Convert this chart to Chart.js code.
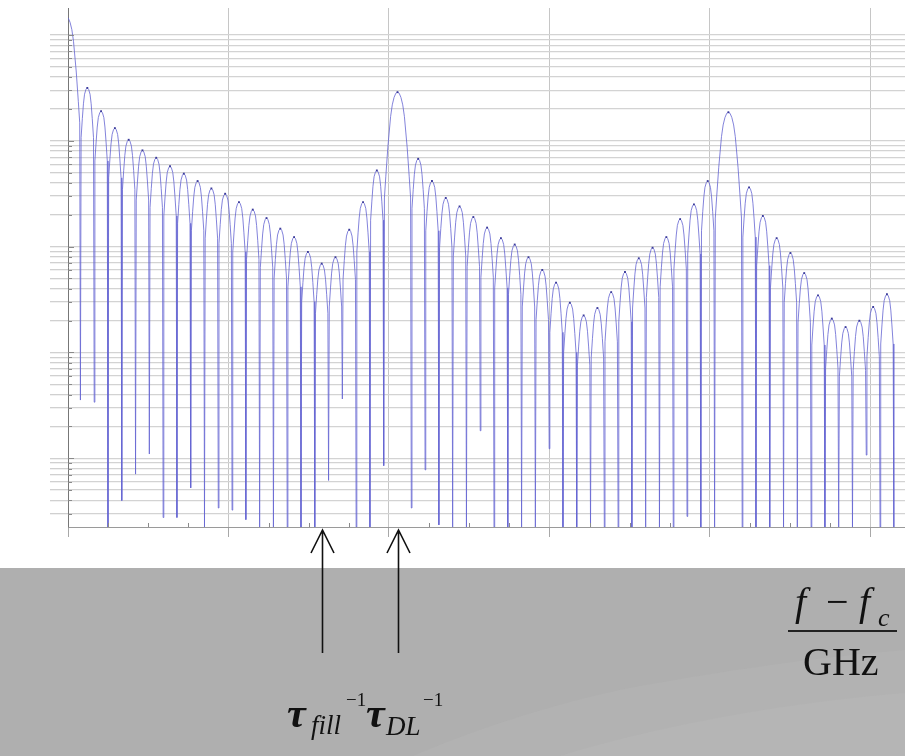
<!DOCTYPE html>
<html>
<head>
<meta charset="utf-8">
<script src="https://cdn.jsdelivr.net/npm/chart.js@4"></script>
<style>
  html, body { margin: 0; padding: 0; background: #fff; }
  #wrap { position: relative; width: 905px; height: 756px; overflow: hidden; }
  #slide { position: absolute; left: 0; top: 568px; width: 905px; height: 188px; }
  #spectrum { position: absolute; left: 0; top: 0; }
  .t { position: absolute; font-family: "Liberation Serif", "DejaVu Serif", serif; color: #111; line-height: 1; white-space: nowrap; }
  .bi { font-weight: bold; font-style: italic; }
  .i { font-style: italic; }
</style>
</head>
<body>
<div id="wrap">
  <div id="slide">
    <svg width="905" height="188">
      <rect width="905" height="188" fill="#afafaf"/>
      <path d="M413,188 C480,160 560,133 640,118 C740,100 830,88 905,82 L905,188 Z" fill="#b2b2b2"/>
      <path d="M560,188 C650,160 780,135 905,125 L905,188 Z" fill="#b5b5b5"/>
    </svg>
  </div>
  <canvas id="spectrum" width="905" height="756"></canvas>

  <span class="t bi" style="left:287px; top:692px; font-size:42px;">τ</span>
  <span class="t i" style="left:311px; top:712px; font-size:27px;">fill</span>
  <span class="t" style="left:346px; top:690px; font-size:19px;">−1</span>
  <span class="t bi" style="left:366px; top:692px; font-size:42px;">τ</span>
  <span class="t i" style="left:386px; top:713px; font-size:27px;">DL</span>
  <span class="t" style="left:423px; top:690px; font-size:19px;">−1</span>

  <span class="t i" style="left:795px; top:582px; font-size:40px;">f</span>
  <span class="t" style="left:826px; top:582px; font-size:40px;">−</span>
  <span class="t i" style="left:859px; top:582px; font-size:40px;">f</span>
  <span class="t i" style="left:878px; top:605px; font-size:26px;">c</span>
  <div style="position:absolute; left:788px; top:630px; width:109px; height:2px; background:#222;"></div>
  <span class="t" style="left:803px; top:642px; font-size:40px;">GHz</span>
</div>

<script>
// comb position of every lobe (in comb periods); the wide lobes sit on half positions
const lobeCentre = [
  -1.5,
  0, 1, 2, 3, 4, 5, 6, 7, 8, 9, 10, 11, 12, 13, 14, 15, 16, 17, 18, 19, 20, 21,
  22.5,
  24, 25, 26, 27, 28, 29, 30, 31, 32, 33, 34, 35, 36, 37, 38, 39, 40, 41, 42, 43, 44, 45,
  46.5,
  48, 49, 50, 51, 52, 53, 54, 55, 56, 57, 58
];

// peak level of each lobe, dB
const lobePeakDb = [
  1.7,
  -5.0, -7.2, -8.8, -9.9, -10.9, -11.6, -12.4, -13.1, -13.8, -14.5, -15.0,
  -15.8, -16.5, -17.3, -18.3, -19.1, -20.5, -21.6, -21.0, -18.4, -15.8, -12.8,
  -5.4,
  -11.7, -13.8, -15.4, -16.2, -17.2, -18.2, -19.2, -19.8, -21.0, -22.2, -23.4,
  -25.3, -26.5, -25.8, -24.3, -22.4, -21.1, -20.1, -19.1, -17.4, -16.0, -13.8,
  -7.3,
  -14.4, -17.1, -19.2, -20.6, -22.5, -24.6, -26.8, -27.6, -27.0, -25.7, -24.5
];

// depth of the notch that follows each lobe, dB (-46.5 = floor of the plot)
const nullDb = [
  -34.5,
  -34.7, -46.5, -44.0, -41.5, -39.6, -45.6, -45.6, -42.8, -46.5, -44.7, -44.9,
  -45.8, -46.5, -46.5, -46.5, -46.5, -46.5, -42.1, -34.4, -46.5, -46.5, -40.7,
  -44.7,
  -41.1, -46.3, -46.5, -46.5, -37.4, -46.5, -46.5, -46.5, -46.5, -39.1, -46.5,
  -46.5, -46.5, -46.5, -46.5, -46.5, -46.5, -46.5, -46.5, -45.5, -46.5, -46.5,
  -46.5,
  -46.5, -46.5, -46.5, -46.5, -46.5, -46.5, -46.5, -46.5, -39.7, -46.5, -46.5
];

// lobe flanks: [offset in periods, dB below the peak]
const narrowFlank = [[0.1, 0.15], [0.2, 0.6], [0.28, 1.5], [0.36, 2.9], [0.45, 4.7]];
const wideFlank = [[0.12, 0.1], [0.25, 0.5], [0.38, 1.2], [0.5, 2.3], [0.7, 5.2], [0.85, 8.0], [0.95, 10.0]];

// arrows: tau_fill^-1 and tau_DL^-1, comb positions
const arrowAt = [17, 22.5];

const combGHz = 0.0859;
const combOrigin = 1.4;
const xMax = 5.215;
const yMin = 2.24e-5;
const yMax = 1.8;

const toGHz = c => (c + combOrigin) * combGHz;
const toLin = db => Math.pow(10, db / 10);

const points = [];
const isPeak = [];
function push(c, db, peak) {
  points.push({ x: toGHz(c), y: toLin(db) });
  isPeak.push(peak);
}
lobeCentre.forEach((c, i) => {
  const wide = !Number.isInteger(c);
  const flank = wide ? wideFlank : narrowFlank;
  for (let k = flank.length - 1; k >= 0; k--) push(c - flank[k][0], lobePeakDb[i] - flank[k][1], false);
  push(c, lobePeakDb[i], true);
  flank.forEach(f => push(c + f[0], lobePeakDb[i] - f[1], false));
  push(c + (wide ? 1 : 0.5), nullDb[i], false);
});

const yTicks = [];
for (let e = -5; e <= 0; e++) {
  for (let m = 1; m <= 9; m++) {
    const v = m * Math.pow(10, e);
    if (v >= yMin && v <= yMax) yTicks.push(v);
  }
}
const xTicks = [];
for (let v = 0; v <= 5; v += 0.25) xTicks.push(v);

const isDecade = v => Math.abs(Math.log10(v) - Math.round(Math.log10(v))) < 1e-9;

const overlay = {
  id: 'overlay',
  afterDraw(chart) {
    const { ctx, chartArea: a } = chart;
    const x = chart.scales.x, y = chart.scales.y;
    ctx.save();
    ctx.strokeStyle = '#8a8a8a';
    ctx.lineWidth = 1;
    y.ticks.forEach(t => {
      const py = Math.round(y.getPixelForValue(t.value)) + 0.5;
      ctx.beginPath();
      ctx.moveTo(a.left, py);
      ctx.lineTo(a.left + (isDecade(t.value) ? 6 : 4), py);
      ctx.stroke();
    });
    x.ticks.forEach(t => {
      if (Number.isInteger(t.value)) return;
      const px = Math.round(x.getPixelForValue(t.value)) + 0.5;
      ctx.beginPath();
      ctx.moveTo(px, a.bottom);
      ctx.lineTo(px, a.bottom - 4);
      ctx.stroke();
    });

    ctx.strokeStyle = '#111';
    ctx.lineWidth = 1.6;
    arrowAt.forEach(c => {
      const px = Math.round(x.getPixelForValue(toGHz(c))) + 0.5;
      const tip = a.bottom + 3;
      ctx.beginPath();
      ctx.moveTo(px, 653);
      ctx.lineTo(px, tip);
      ctx.moveTo(px - 11.5, tip + 23);
      ctx.lineTo(px, tip);
      ctx.lineTo(px + 11.5, tip + 23);
      ctx.stroke();
    });
    ctx.restore();
  }
};

new Chart(document.getElementById('spectrum'), {
  type: 'line',
  data: {
    datasets: [{
      data: points,
      borderColor: 'rgba(100, 100, 210, 0.8)',
      borderWidth: 1,
      tension: 0,
      pointStyle: 'rect',
      pointRadius: ctx => isPeak[ctx.dataIndex] ? 1.3 : 0,
      pointBorderWidth: 0,
      pointBackgroundColor: '#3a3a9a'
    }]
  },
  options: {
    responsive: false,
    animation: false,
    events: [],
    layout: { padding: { left: 50, top: 8, right: 0, bottom: 219 } },
    plugins: { legend: { display: false }, tooltip: { enabled: false } },
    scales: {
      x: {
        type: 'linear',
        min: 0,
        max: xMax,
        afterBuildTicks: axis => { axis.ticks = xTicks.map(v => ({ value: v })); },
        ticks: { display: false },
        border: { color: '#9a9a9a', width: 1 },
        grid: {
          color: ctx => Number.isInteger(ctx.tick.value) ? '#c6c6c6' : 'rgba(0,0,0,0)',
          tickColor: ctx => Number.isInteger(ctx.tick.value) ? '#a8a8a8' : 'rgba(0,0,0,0)',
          tickLength: 10,
          lineWidth: 1
        }
      },
      y: {
        type: 'logarithmic',
        min: yMin,
        max: yMax,
        afterBuildTicks: axis => { axis.ticks = yTicks.map(v => ({ value: v })); },
        ticks: { display: false },
        border: { color: '#777', width: 1 },
        grid: {
          color: '#d3d3d3',
          tickColor: '#d0d0d0',
          tickLength: 18,
          lineWidth: 1.3
        }
      }
    }
  },
  plugins: [overlay]
});
</script>
</body>
</html>
